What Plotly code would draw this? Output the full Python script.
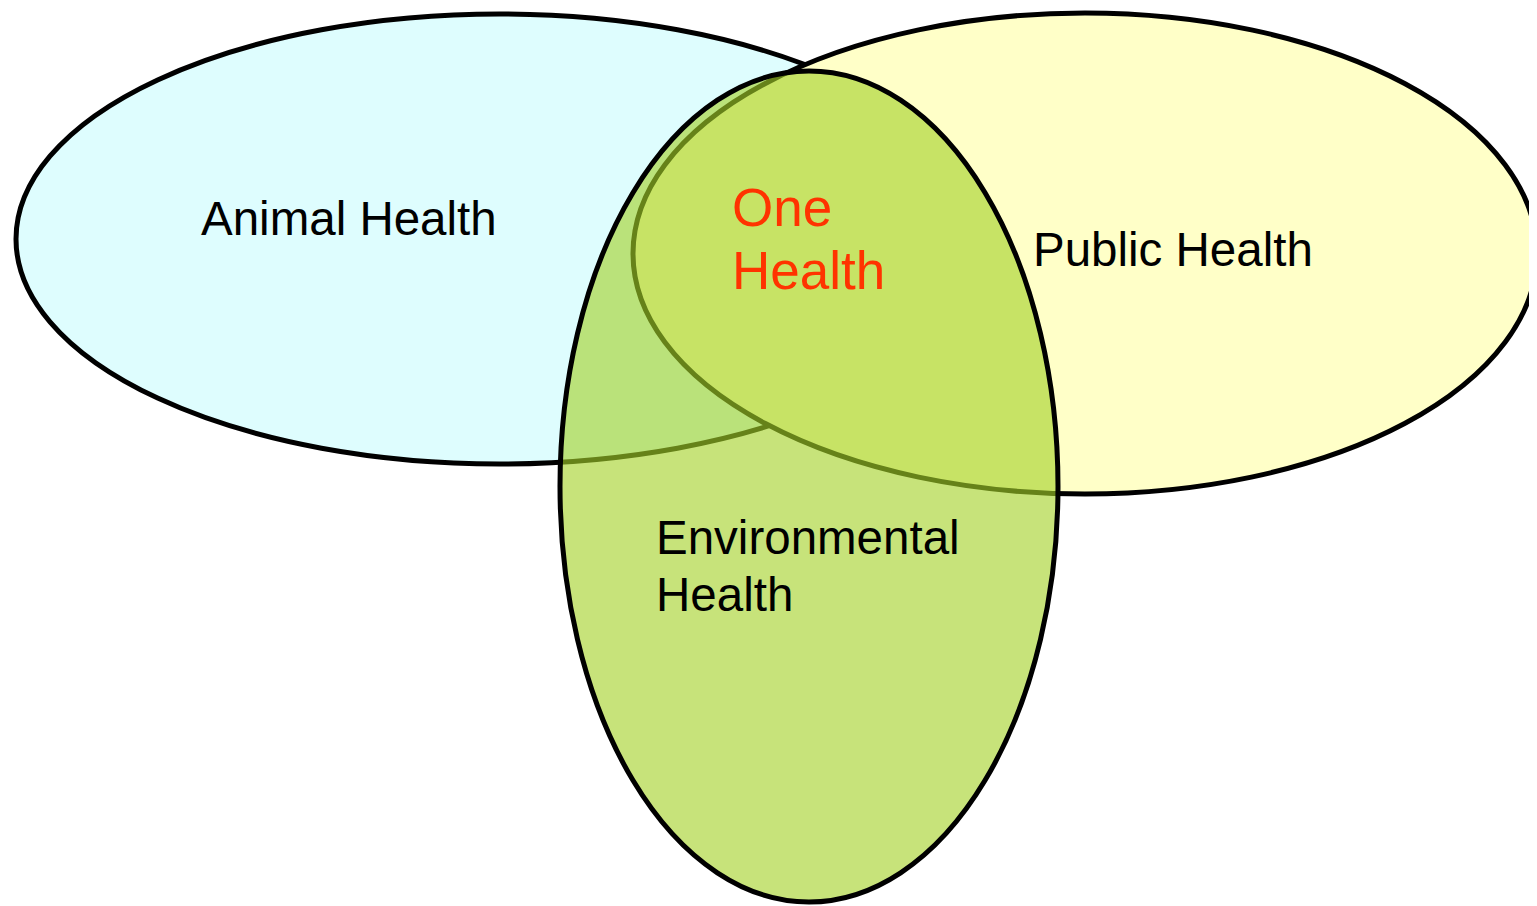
import plotly.graph_objects as go

# Data: the three domains and their labels
set_names = ["Animal Health", "Public Health", "Environmental Health"]
set_label_lines = [["Animal Health"], ["Public Health"], ["Environmental", "Health"]]
center_label_lines = ["One", "Health"]

# Geometry (pixel coordinate space, y pointing down)
ell_cx = [499.5, 1085, 809]
ell_cy = [239, 253.5, 486.5]
ell_rx = [483.5, 452, 249]
ell_ry = [225, 240.5, 415.5]
fills = ["rgba(222,253,254,1)", "rgba(255,255,200,1)", "rgba(165,210,40,0.62)"]

label_x = [199, 1031, 654]
label_y = [[218], [249], [537, 594]]
center_x = 730
center_y = [207, 270]

W, H = 1537, 906
OFF = 8  # page body margin
fig = go.Figure()

shapes = []
for cx, cy, rx, ry, fc in zip(ell_cx, ell_cy, ell_rx, ell_ry, fills):
    shapes.append(dict(type="circle", xref="x", yref="y",
                       x0=cx - rx, x1=cx + rx, y0=cy - ry, y1=cy + ry,
                       fillcolor=fc, line=dict(color="black", width=5), layer="above"))

annotations = []
font = dict(family="Liberation Sans, Arial, sans-serif", size=47.5, color="black")
for lx, lys, lines in zip(label_x, label_y, set_label_lines):
    for ly, txt in zip(lys, lines):
        annotations.append(dict(x=lx, y=ly, xref="x", yref="y", text=txt, showarrow=False,
                                xanchor="left", yanchor="middle", font=font))
for ly, txt in zip(center_y, center_label_lines):
    annotations.append(dict(x=center_x, y=ly, xref="x", yref="y", text=txt, showarrow=False,
                            xanchor="left", yanchor="middle",
                            font=dict(family="Liberation Sans, Arial, sans-serif", size=53, color="#FF3300")))

fig.update_layout(
    width=W, height=H,
    margin=dict(l=0, r=0, t=0, b=0),
    paper_bgcolor="white", plot_bgcolor="white",
    shapes=shapes, annotations=annotations,
    xaxis=dict(range=[OFF, W + OFF], visible=False, fixedrange=True),
    yaxis=dict(range=[H + OFF, OFF], visible=False, fixedrange=True),
    showlegend=False,
)
fig.write_html("out.html", config={"displayModeBar": False})
